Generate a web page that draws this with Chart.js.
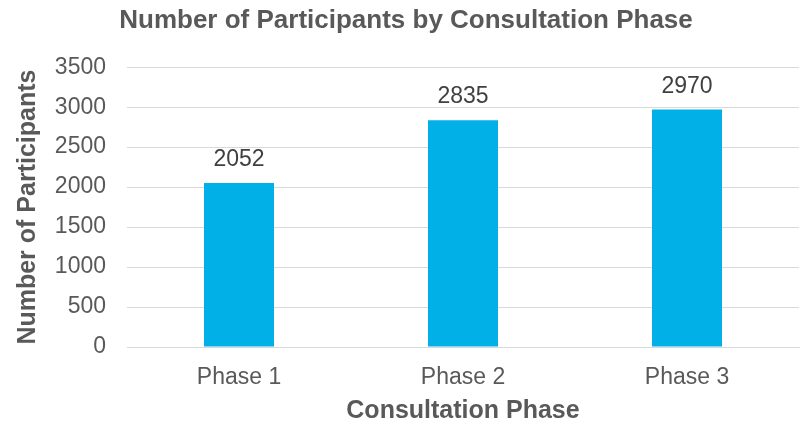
<!DOCTYPE html>
<html>
<head>
<meta charset="utf-8">
<script src="https://cdn.jsdelivr.net/npm/chart.js@4/dist/chart.umd.min.js"></script>
<style>
  html, body { margin: 0; padding: 0; background: #fff; }
  #wrap { width: 800px; height: 426px; }
</style>
</head>
<body>
<div id="wrap"><canvas id="myChart"></canvas></div>
<script>
const phases = ['Phase 1', 'Phase 2', 'Phase 3'];
const participants = [2052, 2835, 2970];
const yTicks = [0, 500, 1000, 1500, 2000, 2500, 3000, 3500];

Chart.defaults.font.family = '"Liberation Sans", Arial, sans-serif';
Chart.defaults.color = '#595959';

// draws the value above each bar
const barValues = {
    id: 'barValues',
    afterDatasetsDraw(chart) {
        const ctx = chart.ctx;
        const meta = chart.getDatasetMeta(0);
        ctx.save();
        ctx.font = '23px "Liberation Sans", Arial, sans-serif';
        ctx.fillStyle = '#404040';
        ctx.textAlign = 'center';
        ctx.textBaseline = 'alphabetic';
        meta.data.forEach((bar, i) => {
            ctx.fillText(String(participants[i]), bar.x, bar.y - 17);
        });
        ctx.restore();
    }
};

const data = {
    labels: phases,
    datasets: [{
        label: 'Number of Participants',
        backgroundColor: '#00B0E6',
        data: participants,
        barPercentage: 0.625,
        categoryPercentage: 0.5
    }]
};

const config = {
    type: 'bar',
    data: data,
    plugins: [barValues],
    options: {
        responsive: true,
        maintainAspectRatio: false,
        animation: false,
        layout: { padding: { left: 13, right: 1, top: 5, bottom: 0 } },
        plugins: {
            legend: { display: false },
            tooltip: { enabled: false },
            title: {
                display: true,
                text: 'Number of Participants by Consultation Phase',
                color: '#595959',
                font: { size: 26, weight: 'bold' },
                padding: { top: 0, bottom: 31 }
            }
        },
        scales: {
            x: {
                afterFit(axis) {
                    axis.height = 79;
                },
                grid: { display: false, drawTicks: false },
                border: { color: '#d9d9d9', width: 1 },
                ticks: { font: { size: 23 }, color: '#595959', padding: 17 },
                title: {
                    display: true,
                    text: 'Consultation Phase',
                    color: '#595959',
                    font: { size: 25, weight: 'bold' },
                    padding: { top: 4, bottom: 0 }
                }
            },
            y: {
                min: 0,
                max: 3500,
                afterBuildTicks(axis) {
                    axis.ticks = yTicks.map(v => ({ value: v }));
                },
                afterFit(axis) {
                    axis.width = 114;
                },
                grid: { color: '#d9d9d9', drawTicks: false },
                border: { display: false },
                ticks: {
                    font: { size: 23 },
                    color: '#595959',
                    padding: 21,
                    callback: v => String(v)
                },
                title: {
                    display: true,
                    text: 'Number of Participants',
                    color: '#595959',
                    font: { size: 25, weight: 'bold' },
                    padding: 0
                }
            }
        }
    }
};

new Chart(
    document.getElementById('myChart'),
    config
);
</script>
</body>
</html>
